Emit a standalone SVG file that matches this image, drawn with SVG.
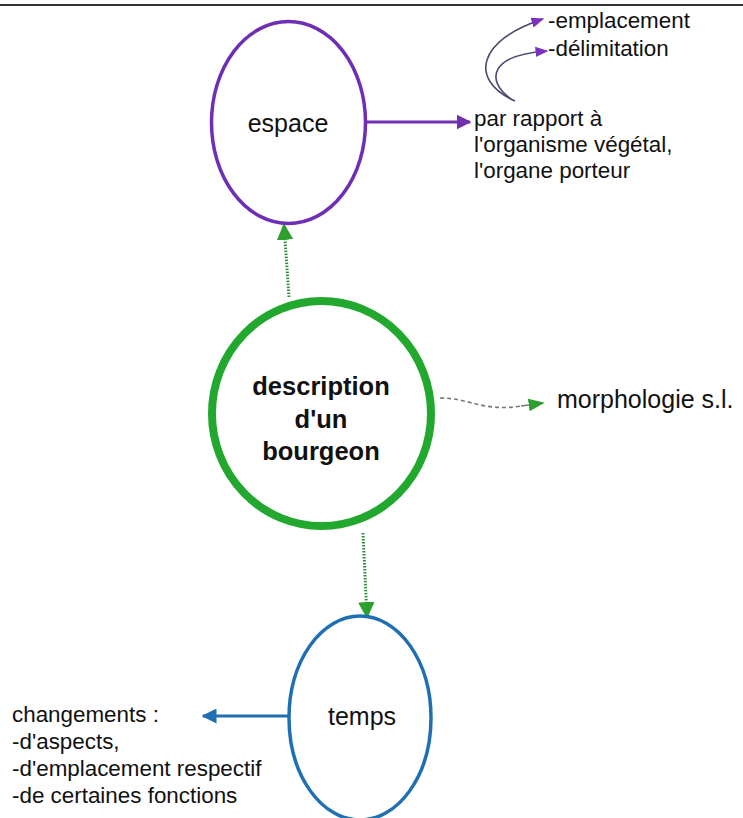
<svg xmlns="http://www.w3.org/2000/svg" width="743" height="818" viewBox="0 0 743 818">
<defs>
<style>
text{font-family:"Liberation Sans",Arial,sans-serif;fill:#111}
.lbl{font-size:22.4px}
.nd{font-size:25px}
.b{font-weight:bold;font-size:25.5px}
</style>
<marker id="ap" viewBox="0 0 10 10" refX="9" refY="5" markerWidth="5" markerHeight="5" orient="auto" markerUnits="strokeWidth"><path d="M0,0 L10,5 L0,10 z" fill="#7030b0"/></marker>
<marker id="ap2" viewBox="0 0 10 10" refX="9" refY="5" markerWidth="8" markerHeight="8" orient="auto" markerUnits="strokeWidth"><path d="M0,1 L10,5 L0,9 z" fill="#7a30c0"/></marker>
<marker id="ag" viewBox="0 0 10 10" refX="9" refY="5" markerWidth="5.5" markerHeight="5.5" orient="auto" markerUnits="strokeWidth"><path d="M0,0 L10,5 L0,10 z" fill="#2ca02c"/></marker>
<marker id="ag2" viewBox="0 0 10 10" refX="9" refY="5" markerWidth="10" markerHeight="10" orient="auto" markerUnits="strokeWidth"><path d="M0,1 L10,5 L0,9 z" fill="#2ca02c"/></marker>
<marker id="ab" viewBox="0 0 10 10" refX="9" refY="5" markerWidth="5" markerHeight="5" orient="auto" markerUnits="strokeWidth"><path d="M0,0 L10,5 L0,10 z" fill="#1f6fb2"/></marker>
</defs>
<rect width="743" height="818" fill="#fff"/>
<line x1="0" y1="5" x2="743" y2="5" stroke="#333" stroke-width="2"/>
<g id="connectors" fill="none">
<line x1="367" y1="122" x2="470" y2="122" stroke="#7030b0" stroke-width="3" marker-end="url(#ap)"/>
<path d="M515,101 C468,80 478,40 543,19" stroke="#4b4b72" stroke-width="1.6" marker-end="url(#ap2)"/>
<path d="M511,99 C485,80 490,55 547,51" stroke="#4b4b72" stroke-width="1.6" marker-end="url(#ap2)"/>
<path d="M289,297 L284,225" stroke="#2e8b3a" stroke-width="3" stroke-dasharray="1.5 1.5" marker-end="url(#ag)"/>
<path d="M363,533 L367,617" stroke="#2e8b3a" stroke-width="3" stroke-dasharray="1.5 1.5" marker-end="url(#ag)"/>
<path d="M440,398 C470,398 482,412 522,406" stroke="#777" stroke-width="1.6" stroke-dasharray="4 3"/>
<path d="M521,406 L543,403" stroke="#777" stroke-width="1.6" marker-end="url(#ag2)"/>
<line x1="288" y1="716" x2="203" y2="716" stroke="#1f6fb2" stroke-width="3" marker-end="url(#ab)"/>
</g>
<g id="espace">
<ellipse cx="288.5" cy="122.5" rx="77" ry="101" fill="#fff" stroke="#6f2fb5" stroke-width="3.5"/>
<text class="nd" x="288" y="132" text-anchor="middle">espace</text>
</g>
<g id="description">
<ellipse cx="321.5" cy="413.5" rx="109.5" ry="112.5" fill="#fff" stroke="#22a82e" stroke-width="8"/>
<text class="b" x="321" y="395" text-anchor="middle">description</text>
<text class="b" x="321" y="428" text-anchor="middle">d'un</text>
<text class="b" x="321" y="460" text-anchor="middle">bourgeon</text>
</g>
<g id="temps">
<ellipse cx="360" cy="718" rx="71" ry="102" fill="#fff" stroke="#1f6fb2" stroke-width="3.5"/>
<text class="nd" x="362" y="725" text-anchor="middle">temps</text>
</g>
<g id="rapport">
<text class="lbl" x="474" y="126">par rapport à</text>
<text class="lbl" x="474" y="152">l'organisme végétal,</text>
<text class="lbl" x="474" y="178">l'organe porteur</text>
</g>
<g id="emplacement"><text class="lbl" x="548" y="28">-emplacement</text></g>
<g id="delimitation"><text class="lbl" x="548" y="56">-délimitation</text></g>
<g id="morphologie"><text class="nd" x="557" y="408">morphologie s.l.</text></g>
<g id="changements">
<text class="lbl" x="12" y="722">changements :</text>
<text class="lbl" x="12" y="749">-d'aspects,</text>
<text class="lbl" x="12" y="776">-d'emplacement respectif</text>
<text class="lbl" x="12" y="803">-de certaines fonctions</text>
</g>
</svg>
